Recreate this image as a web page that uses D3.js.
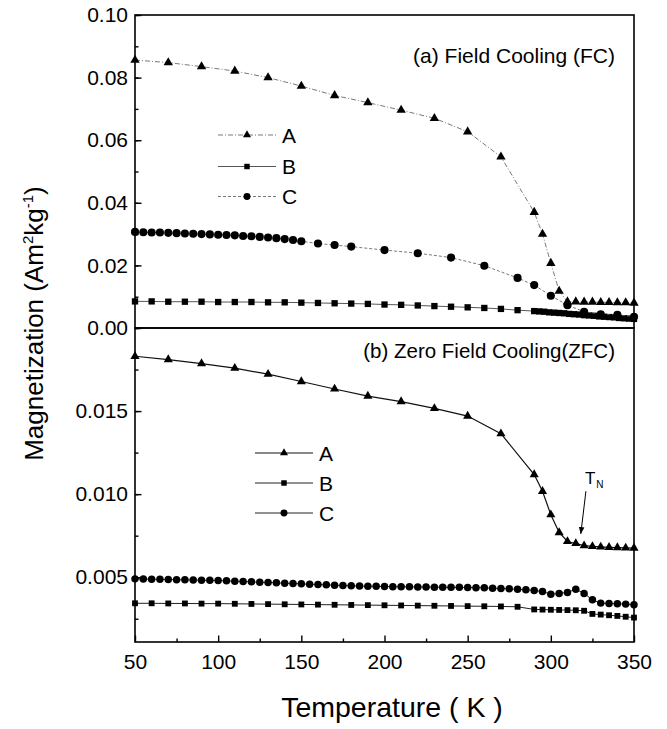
<!DOCTYPE html>
<html>
<head>
<meta charset="utf-8">
<script src="https://cdn.jsdelivr.net/npm/d3@7"></script>
<style>
  body { margin: 0; background: #fff; }
  svg { display: block; font-family: "Liberation Sans", Arial, Helvetica, sans-serif; }
</style>
</head>
<body>
<svg id="chart" width="667" height="729"></svg>
<script>
// ---- data ----
// (a) Field Cooling
const fcTempA = [50, 70, 90, 110, 130, 150, 170, 190, 210, 230, 250, 270, 290, 295, 300, 305, 310, 315, 320, 325, 330, 335, 340, 345, 350];
const fcMagA  = [0.0856, 0.0848, 0.0835, 0.0821, 0.0800, 0.0773, 0.0743, 0.0720, 0.0696, 0.0670, 0.0627, 0.0547, 0.0370, 0.0300, 0.0207, 0.0118, 0.0084, 0.0084, 0.0083, 0.0083, 0.0082, 0.0082, 0.0081, 0.0081, 0.0080];

const fcTempB = [50, 60, 70, 80, 90, 100, 110, 120, 130, 140, 150, 160, 170, 180, 190, 200, 210, 220, 230, 240, 250, 260, 270, 280,
                 290, 293, 296, 299, 302, 305, 308, 311, 314, 317, 320, 323, 326, 329, 332, 335, 338, 341, 344, 347, 350];
const fcMagB  = [0.0085, 0.0085, 0.0084, 0.0084, 0.0084, 0.0083, 0.0083, 0.0083, 0.0082, 0.0082, 0.0081, 0.0080, 0.0079, 0.0078, 0.0077, 0.0075, 0.0074, 0.0072, 0.0070, 0.0068, 0.0066, 0.0064, 0.0061, 0.0057,
                 0.0054, 0.0053, 0.0052, 0.0050, 0.0049, 0.0048, 0.0047, 0.0045, 0.0044, 0.0043, 0.0041, 0.0040, 0.0039, 0.0037, 0.0036, 0.0035, 0.0034, 0.0032, 0.0031, 0.0030, 0.0029];

const fcTempC = [50, 55, 60, 65, 70, 75, 80, 85, 90, 95, 100, 105, 110, 115, 120, 125, 130, 135, 140, 145, 150,
                 160, 170, 180, 200, 220, 240, 260, 280, 290, 300, 310, 320, 330, 340, 350];
const fcMagC  = [0.0307, 0.0306, 0.0305, 0.0305, 0.0304, 0.0303, 0.0302, 0.0301, 0.0300, 0.0299, 0.0298, 0.0297, 0.0296, 0.0294, 0.0293, 0.0291, 0.0289, 0.0287, 0.0284, 0.0281, 0.0277,
                 0.0270, 0.0265, 0.0260, 0.0249, 0.0239, 0.0225, 0.0199, 0.0160, 0.0137, 0.0103, 0.0073, 0.0052, 0.0044, 0.0042, 0.0036];

// (b) Zero Field Cooling
const zfcTempA = [50, 70, 90, 110, 130, 150, 170, 190, 210, 230, 250, 270, 290, 295, 300, 305, 310, 315, 320, 325, 330, 335, 340, 345, 350];
const zfcMagA  = [0.0183, 0.0181, 0.01786, 0.01758, 0.01722, 0.01678, 0.01633, 0.0159, 0.01557, 0.01516, 0.0147, 0.01364, 0.01118, 0.01017, 0.00876, 0.00769, 0.00715, 0.00703, 0.0069, 0.00685, 0.00682, 0.0068, 0.00678, 0.00676, 0.00675];

const zfcTempB = [50, 60, 70, 80, 90, 100, 110, 120, 130, 140, 150, 160, 170, 180, 190, 200, 210, 220, 230, 240, 250, 260, 270, 280,
                  290, 295, 300, 305, 310, 315, 320, 325, 330, 335, 340, 345, 350];
const zfcMagB  = [0.00343, 0.00343, 0.00342, 0.00342, 0.00341, 0.00341, 0.0034, 0.00339, 0.00338, 0.00337, 0.00336, 0.00335, 0.00334, 0.00333, 0.00332, 0.00331, 0.0033, 0.00329, 0.00328, 0.00327, 0.00326, 0.00325, 0.00324, 0.00322,
                  0.00306, 0.00305, 0.00304, 0.00303, 0.00302, 0.00301, 0.00298, 0.00279, 0.00275, 0.00271, 0.00267, 0.00262, 0.00257];

const zfcTempC = [50, 55, 60, 65, 70, 75, 80, 85, 90, 95, 100, 105, 110, 115, 120, 125, 130, 135, 140, 145, 150, 155, 160, 165, 170, 175,
                  180, 185, 190, 195, 200, 205, 210, 215, 220, 225, 230, 235, 240, 245, 250, 255, 260, 265, 270, 275, 280, 285, 290, 295,
                  300, 305, 310, 315, 320, 325, 330, 335, 340, 345, 350];
const zfcMagC  = [0.0049, 0.00489, 0.00488, 0.00487, 0.00486, 0.00485, 0.00484, 0.00483, 0.00482, 0.00481, 0.0048, 0.00478, 0.00476, 0.00474, 0.00472, 0.0047, 0.00468, 0.00466, 0.00464, 0.00462, 0.0046, 0.00458, 0.00456, 0.00454, 0.00452, 0.0045,
                  0.00448, 0.00447, 0.00446, 0.00445, 0.00444, 0.00443, 0.00442, 0.00442, 0.00441, 0.00441, 0.0044, 0.0044, 0.00439, 0.00439, 0.00438, 0.00437, 0.00436, 0.00434, 0.00432, 0.0043, 0.00427, 0.00424, 0.0042, 0.00414,
                  0.00398, 0.00402, 0.00408, 0.00428, 0.00402, 0.00364, 0.00344, 0.00342, 0.0034, 0.00338, 0.00334];

const seriesNames = ["A", "B", "C"];
const xTicks = [50, 100, 150, 200, 250, 300, 350];
const fcYTicks = [0.00, 0.02, 0.04, 0.06, 0.08, 0.10];
const zfcYTicks = [0.005, 0.010, 0.015];
const tnLabel = { temp: 320.5, mag: 0.0106, tipTemp: 318, tipMag: 0.0076 };

// ---- layout ----
const W = 667, H = 729;
const margin = { left: 135, right: 33, top: 15, bottom: 87 };
const plotBottom = H - margin.bottom;
const split = 328;
const FONT = 21;

const svg = d3.select("#chart");

const x = d3.scaleLinear().domain([50, 350]).range([margin.left, W - margin.right]);
const yFC = d3.scaleLinear().domain([0, 0.10]).range([split, margin.top]);
const yZFC = d3.scaleLinear().domain([0.0011, 0.0200]).range([plotBottom, split]);

const markerShape = [d3.symbolTriangle, d3.symbolSquare, d3.symbolCircle];

function styleAxis(g) {
  g.select(".domain").remove();
  g.selectAll(".tick line").attr("stroke", "#000").attr("stroke-width", 1.4);
  g.selectAll(".tick text").attr("font-size", FONT).attr("fill", "#000").attr("font-family", "inherit");
  return g;
}

// y axes (ticks point inward)
function drawYAxis(y, major, minorStep, fmt) {
  const [d0, d1] = y.domain();
  const minor = d3.range(Math.ceil(d0 / minorStep) * minorStep, d1 + 1e-9, minorStep);
  svg.append("g").attr("transform", `translate(${margin.left},0)`)
    .call(d3.axisLeft(y).tickValues(minor).tickSize(-3.5).tickFormat(""))
    .call(styleAxis);
  svg.append("g").attr("transform", `translate(${margin.left},0)`)
    .call(d3.axisLeft(y).tickValues(major).tickSize(-6.5).tickPadding(7).tickFormat(d3.format(fmt)))
    .call(styleAxis);
}
drawYAxis(yFC, fcYTicks, 0.01, ".2f");
drawYAxis(yZFC, zfcYTicks, 0.0025, ".3f");

// x axis
svg.append("g").attr("transform", `translate(0,${plotBottom})`)
  .call(d3.axisBottom(x).tickValues(d3.range(75, 350, 50)).tickSize(-3.5).tickFormat(""))
  .call(styleAxis);
svg.append("g").attr("transform", `translate(0,${plotBottom})`)
  .call(d3.axisBottom(x).tickValues(xTicks).tickSize(-6.5).tickPadding(12).tickFormat(d3.format("d")))
  .call(styleAxis);

// frames
[[margin.top, split], [split, plotBottom]].forEach(([t, b]) => {
  svg.append("rect")
    .attr("x", margin.left).attr("y", t)
    .attr("width", W - margin.right - margin.left).attr("height", b - t)
    .attr("fill", "none").attr("stroke", "#000").attr("stroke-width", 1.6);
});

// series
function drawSeries(y, temps, mags, shapeIdx, opts) {
  const pts = temps.map((t, i) => [t, mags[i]]);
  const line = d3.line().x(d => x(d[0])).y(d => y(d[1]));
  svg.append("path").datum(pts)
    .attr("d", line).attr("fill", "none")
    .attr("stroke", opts.lineColor).attr("stroke-width", opts.lineWidth)
    .attr("stroke-dasharray", opts.dash || null);
  svg.append("g").selectAll("path").data(pts).join("path")
    .attr("transform", d => `translate(${x(d[0])},${y(d[1])})`)
    .attr("d", d3.symbol(markerShape[shapeIdx], opts.size[shapeIdx]))
    .attr("fill", "#000");
}

const fcOpts = [
  { lineColor: "#555", lineWidth: 0.8, dash: "5,2,1,2", size: [38, 40, 52] },
  { lineColor: "#444", lineWidth: 0.9, dash: null, size: [38, 40, 52] },
  { lineColor: "#555", lineWidth: 0.8, dash: "3,2", size: [38, 40, 52] }
];
const zfcOpts = [
  { lineColor: "#111", lineWidth: 1.2, dash: null, size: [36, 34, 44] },
  { lineColor: "#222", lineWidth: 1.0, dash: null, size: [36, 34, 44] },
  { lineColor: "#222", lineWidth: 1.0, dash: null, size: [36, 34, 44] }
];

drawSeries(yFC, fcTempB, fcMagB, 1, fcOpts[1]);
drawSeries(yFC, fcTempC, fcMagC, 2, fcOpts[2]);
drawSeries(yFC, fcTempA, fcMagA, 0, fcOpts[0]);
drawSeries(yZFC, zfcTempB, zfcMagB, 1, zfcOpts[1]);
drawSeries(yZFC, zfcTempC, zfcMagC, 2, zfcOpts[2]);
drawSeries(yZFC, zfcTempA, zfcMagA, 0, zfcOpts[0]);

// legends
function drawLegend(x0, rowsY, opts) {
  seriesNames.forEach((name, i) => {
    const g = svg.append("g").attr("transform", `translate(${x0},${rowsY[i]})`);
    g.append("line").attr("x1", 0).attr("x2", 58).attr("y1", 0).attr("y2", 0)
      .attr("stroke", opts[i].lineColor).attr("stroke-width", opts[i].lineWidth)
      .attr("stroke-dasharray", opts[i].dash || null);
    g.append("path").attr("transform", "translate(29,0)")
      .attr("d", d3.symbol(markerShape[i], [28, 30, 38][i])).attr("fill", "#000");
    g.append("text").attr("x", 64).attr("y", 7.5).attr("font-size", 21).text(name);
  });
}
drawLegend(218, [135, 166.5, 196.5], fcOpts);
drawLegend(255, [453, 483, 513], zfcOpts);

// panel titles
svg.append("text").attr("x", 615).attr("y", 63).attr("text-anchor", "end")
  .attr("font-size", 21).text("(a) Field Cooling (FC)");
svg.append("text").attr("x", 615).attr("y", 358).attr("text-anchor", "end")
  .attr("font-size", 20.5).text("(b) Zero Field Cooling(ZFC)");

// T_N annotation
const tn = svg.append("text").attr("x", x(tnLabel.temp)).attr("y", yZFC(tnLabel.mag))
  .attr("font-size", 17);
tn.append("tspan").text("T");
tn.append("tspan").attr("font-size", 10).attr("dy", 4).attr("dx", 1).text("N");
svg.append("defs").append("marker").attr("id", "arrow")
  .attr("viewBox", "0 0 10 10").attr("refX", 10).attr("refY", 5)
  .attr("markerWidth", 7).attr("markerHeight", 7).attr("orient", "auto")
  .append("path").attr("d", "M0,1 L10,5 L0,9 Z").attr("fill", "#000");
svg.append("line")
  .attr("x1", x(tnLabel.temp) + 1).attr("y1", yZFC(tnLabel.mag) + 7)
  .attr("x2", x(tnLabel.tipTemp)).attr("y2", yZFC(tnLabel.tipMag))
  .attr("stroke", "#000").attr("stroke-width", 1).attr("marker-end", "url(#arrow)");

// axis titles
svg.append("text").attr("x", 392).attr("y", 717).attr("text-anchor", "middle")
  .attr("font-size", 28.5).text("Temperature ( K )");
const yt = svg.append("text")
  .attr("transform", `translate(43,${(margin.top + plotBottom) / 2 - 5}) rotate(-90)`)
  .attr("text-anchor", "middle").attr("font-size", 26);
yt.append("tspan").text("Magnetization (Am");
yt.append("tspan").attr("font-size", 15).attr("dy", -10).text("2");
yt.append("tspan").attr("dy", 10).text("kg");
yt.append("tspan").attr("font-size", 15).attr("dy", -10).text("-1");
yt.append("tspan").attr("dy", 10).text(")");
</script>
</body>
</html>
